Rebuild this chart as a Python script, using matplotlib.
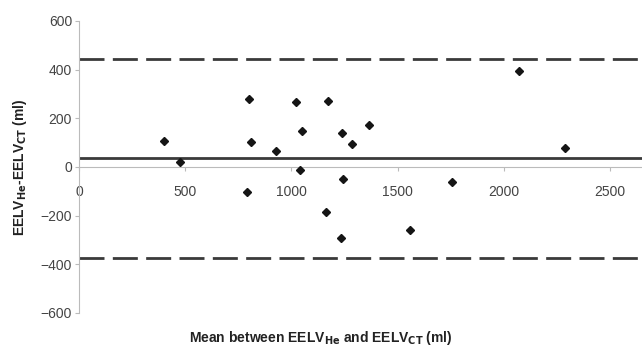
import matplotlib
matplotlib.use("Agg")
import matplotlib.pyplot as plt

# data
mean_vals = [402, 476, 798, 811, 791, 926, 1023, 1052, 1042, 1173, 1162,
             1239, 1283, 1366, 1244, 1231, 1558, 1758, 2069, 2289]
diff_vals = [105, 22, 279, 104, -102, 66, 266, 149, -14, 273, -185,
             140, 94, 173, -51, -290, -258, -62, 395, 77]
bias = 36
upper_loa = 442
lower_loa = -372
x_ticks = [0, 500, 1000, 1500, 2000, 2500]
y_ticks = [-600, -400, -200, 0, 200, 400, 600]

plt.rcParams['font.family'] = ['Liberation Sans', 'DejaVu Sans']

fig = plt.figure(figsize=(6.42, 3.47), dpi=100)
ax = fig.add_axes([0.123, 0.098, 0.877, 0.8415])

ax.set_xlim(0, 2650)
ax.set_ylim(-600, 600)

ax.axhline(bias, color="#3a3a3a", lw=2.0, zorder=2)
for v in (upper_loa, lower_loa):
    ax.axhline(v, color="#3a3a3a", lw=2.0, dashes=(9, 3), zorder=2)

ax.plot(mean_vals, diff_vals, "D", color="#151515", ms=3.8, zorder=3)

# spines: y axis at left, x axis through zero
for s in ("top", "right"):
    ax.spines[s].set_visible(False)
ax.spines["left"].set_color("#bbbbbb")
ax.spines["bottom"].set_position(("data", 0))
ax.spines["bottom"].set_color("#bbbbbb")

ax.set_yticks(y_ticks)
ax.set_xticks(x_ticks)
ax.tick_params(axis="y", direction="out", length=3, color="#bbbbbb",
               labelsize=10, labelcolor="#444444", pad=2)
ax.tick_params(axis="x", direction="out", length=3, color="#bbbbbb",
               labelsize=10, labelcolor="#444444", pad=10)
for lbl in ax.get_xticklabels():
    lbl.set_bbox(dict(facecolor="white", edgecolor="none", pad=0))

ax.set_ylabel(r"EELV$_{\mathbf{He}}$-EELV$_{\mathbf{CT}}$ (ml)", fontsize=10,
              fontweight="bold", color="#222222", labelpad=8)
fig.text(0.5, 0.0, r"Mean between EELV$_{\mathbf{He}}$ and EELV$_{\mathbf{CT}}$ (ml)",
         fontsize=10, fontweight="bold", color="#222222", ha="center", va="bottom")

fig.savefig("out.png", dpi=100)
